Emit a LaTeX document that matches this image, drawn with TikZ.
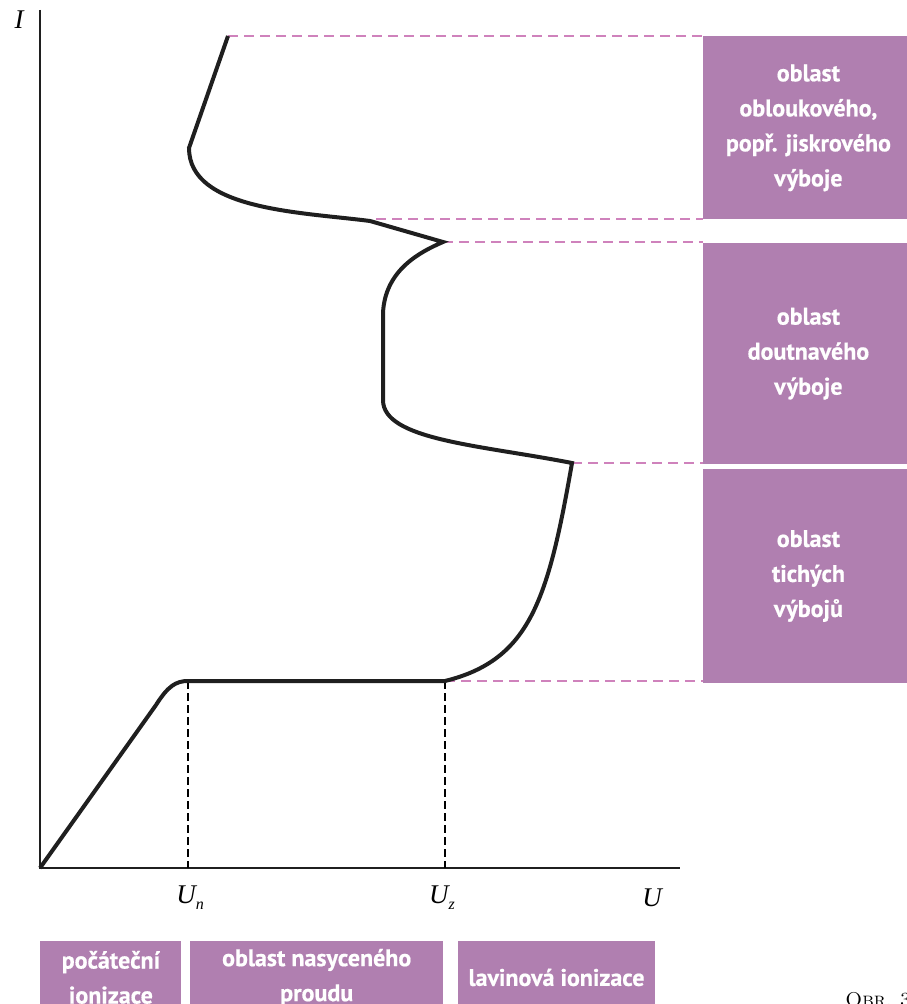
\documentclass[tikz,border=0pt]{standalone}
\usepackage{fontspec}
\newfontfamily\zonefont[BoldFeatures={FakeBold=0.6}]{PT Sans}
\newfontfamily\lserif{Liberation Serif}
\usetikzlibrary{positioning}
\definecolor{zonecol}{HTML}{B07FB0}
\definecolor{guidecol}{HTML}{CF82BC}
\tikzset{
  zone/.style={fill=zonecol, text=white, inner sep=0pt, align=center,
    font=\zonefont\bfseries\fontsize{12}{17.5}\selectfont},
  guide/.style={guidecol, line width=1.4pt, dash pattern=on 5pt off 3pt},
  ulevel/.style={black, line width=0.8pt, dash pattern=on 4pt off 2pt},
  curve/.style={line width=2pt, black!88},
  axlab/.style={font=\lserif\itshape\fontsize{13.5}{15}\selectfont, inner sep=0pt}
}
\newcommand\subl[1]{\raisebox{-3pt}{\fontsize{8}{8}\selectfont #1}}

\begin{document}
\begin{tikzpicture}[x=0.5pt, y=-0.5pt]
\useasboundingbox (0,0) rectangle (906,1004);

\coordinate (o) at (40,868);
\coordinate (yend) at (40,10);
\coordinate (xend) at (680,868);
\coordinate (un) at (188,681);
\coordinate (uz) at (445,681);
\coordinate (tichy) at (572,463);
\coordinate (doutn) at (443,242);
\coordinate (oblouk) at (370,221);
\coordinate (top) at (228,36);
\coordinate (obl2) at (376,219);
\coordinate (unx) at (188,868);
\coordinate (uzx) at (445,868);

\node[zone, anchor=north west, minimum width=105pt, minimum height=91.5pt] (arc) at (703,36)
  {oblast\\ obloukového,\\ popř. jiskrového\\ výboje};
\node[zone, minimum width=105pt, minimum height=110.5pt, below=11.5pt of arc] (glow)
  {oblast\\ doutnavého\\ výboje};
\node[zone, minimum width=105pt, minimum height=107pt, below=2pt of glow] (silent)
  {oblast\\ tichých\\ výbojů};

\node[zone, anchor=north west, minimum width=70.5pt, minimum height=36pt] (init) at (40,941)
  {počáteční\\ ionizace};
\node[zone, minimum width=126.5pt, minimum height=36pt, right=4pt of init] (satur)
  {oblast nasyceného\\ proudu};
\node[zone, minimum width=98.5pt, minimum height=36pt, right=7pt of satur] (aval)
  {lavinová ionizace};

\draw[line width=1.2pt, black!88] (yend) -- (o) -- (xend);
\node[axlab] (ilab) at (19,20) {I};
\node[axlab] (ulab) at (652,898) {U};
\node[axlab] (unlab) at (190,898) {U\subl{n}};
\node[axlab] (uzlab) at (442,898) {U\subl{z}};

\draw[ulevel] (un) -- (unx);
\draw[ulevel] (uz) -- (uzx);

\draw[guide] (top) -- (top -| arc.west);
\draw[guide] (obl2) -- (obl2 -| arc.west);
\draw[guide] (doutn) -- (doutn -| glow.west);
\draw[guide] (tichy) -- (tichy -| glow.west);
\draw[guide] (uz) -- (uz -| silent.west);

\draw[curve] (o) -- (156,705) .. controls (168,686) and (176,681) .. (un) -- (uz)
  .. controls (530,660) and (548,600) .. (tichy)
  .. controls (480,445) and (383,440) .. (383,400) -- (383,313)
  .. controls (385,270) and (420,252) .. (doutn) -- (oblouk)
  .. controls (300,212) and (189,210) .. (189,148) -- (top);

\node[anchor=base west, inner sep=0pt, font=\fontsize{10}{12}\selectfont] (caption) at (845,1006) {\textsc{Obr.~3}};
\end{tikzpicture}
\end{document}
